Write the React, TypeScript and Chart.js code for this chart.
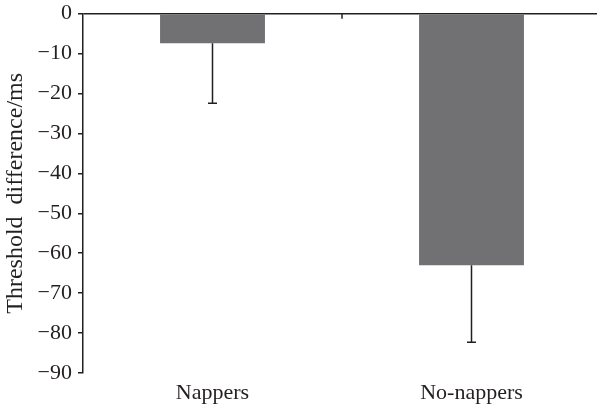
import React, { useEffect, useRef } from "react";
import { Chart, registerables } from "chart.js";

Chart.register(...registerables);

const categories = ["Nappers", "No-nappers"];
const meanDiff = [-7.4, -63.0];
const errorSize = [15.0, 19.3];
const yTickValues = [0, -10, -20, -30, -40, -50, -60, -70, -80, -90];

const INK = "#231f20";
const BAR = "#717174";
const FONT = "'Liberation Serif', 'Times New Roman', serif";

// Draws the one-sided (downward) error bars and the category divider tick on the zero line.
const errorBarPlugin = {
  id: "errorBars",
  afterDatasetsDraw(chart: any) {
    const { ctx, chartArea } = chart;
    const yScale = chart.scales.y;
    const xScale = chart.scales.x;
    const meta = chart.getDatasetMeta(0);
    ctx.save();
    ctx.strokeStyle = INK;
    ctx.lineWidth = 1.5;
    meta.data.forEach((bar: any, i: number) => {
      const v = meanDiff[i];
      const y0 = yScale.getPixelForValue(v);
      const y1 = yScale.getPixelForValue(v - errorSize[i]);
      ctx.beginPath();
      ctx.moveTo(bar.x, y0);
      ctx.lineTo(bar.x, y1);
      ctx.moveTo(bar.x - 4.5, y1);
      ctx.lineTo(bar.x + 4.5, y1);
      ctx.stroke();
    });
    for (let i = 0; i < categories.length - 1; i++) {
      const xm = (xScale.getPixelForValue(i) + xScale.getPixelForValue(i + 1)) / 2;
      ctx.beginPath();
      ctx.moveTo(xm, chartArea.top);
      ctx.lineTo(xm, chartArea.top + 5);
      ctx.stroke();
    }
    ctx.restore();
  },
};

export default function App() {
  const canvasRef = useRef<HTMLCanvasElement | null>(null);

  useEffect(() => {
    if (!canvasRef.current) return;
    const chart = new Chart(canvasRef.current, {
      type: "bar",
      data: {
        labels: categories,
        datasets: [
          {
            data: meanDiff,
            backgroundColor: BAR,
            borderWidth: 0,
            categoryPercentage: 1,
            barPercentage: 0.405,
          },
        ],
      },
      options: {
        responsive: false,
        animation: false,
        layout: { padding: { top: 13, right: 0, left: 0, bottom: 0 } },
        plugins: { legend: { display: false }, tooltip: { enabled: false } },
        scales: {
          x: {
            offset: true,
            border: { display: false },
            grid: { display: false, drawTicks: false },
            afterFit: (scale: any) => {
              scale.height = 33;
            },
            ticks: {
              color: INK,
              padding: 9,
              font: { family: FONT, size: 22, lineHeight: 1 },
            },
          },
          y: {
            min: -90,
            max: 0,
            afterBuildTicks: (scale: any) => {
              scale.ticks = yTickValues.map((value) => ({ value }));
            },
            afterFit: (scale: any) => {
              scale.width = 83;
            },
            border: { display: true, color: INK, width: 1.5 },
            grid: {
              drawOnChartArea: true,
              drawTicks: true,
              tickLength: 5,
              tickColor: INK,
              tickWidth: 1.5,
              color: (ctx: any) => (ctx.tick && ctx.tick.value === 0 ? INK : "rgba(0,0,0,0)"),
              lineWidth: 1.5,
            },
            ticks: {
              color: INK,
              padding: 6,
              font: { family: FONT, size: 22, lineHeight: 0.7 },
              callback: (value: any) => (Number(value) < 0 ? "\u2212" + Math.abs(Number(value)) : String(value)),
            },
            title: {
              display: true,
              text: "Threshold  difference/ms",
              color: INK,
              padding: { top: 4, bottom: 0 },
              font: { family: FONT, size: 24, lineHeight: 1 },
            },
          },
        },
      },
      plugins: [errorBarPlugin],
    });
    return () => chart.destroy();
  }, []);

  return (
    <div style={{ position: "fixed", left: 0, top: 0, width: 597, height: 406, overflow: "hidden", background: "#fff" }}>
      <canvas ref={canvasRef} width={601} height={406} />
    </div>
  );
}
